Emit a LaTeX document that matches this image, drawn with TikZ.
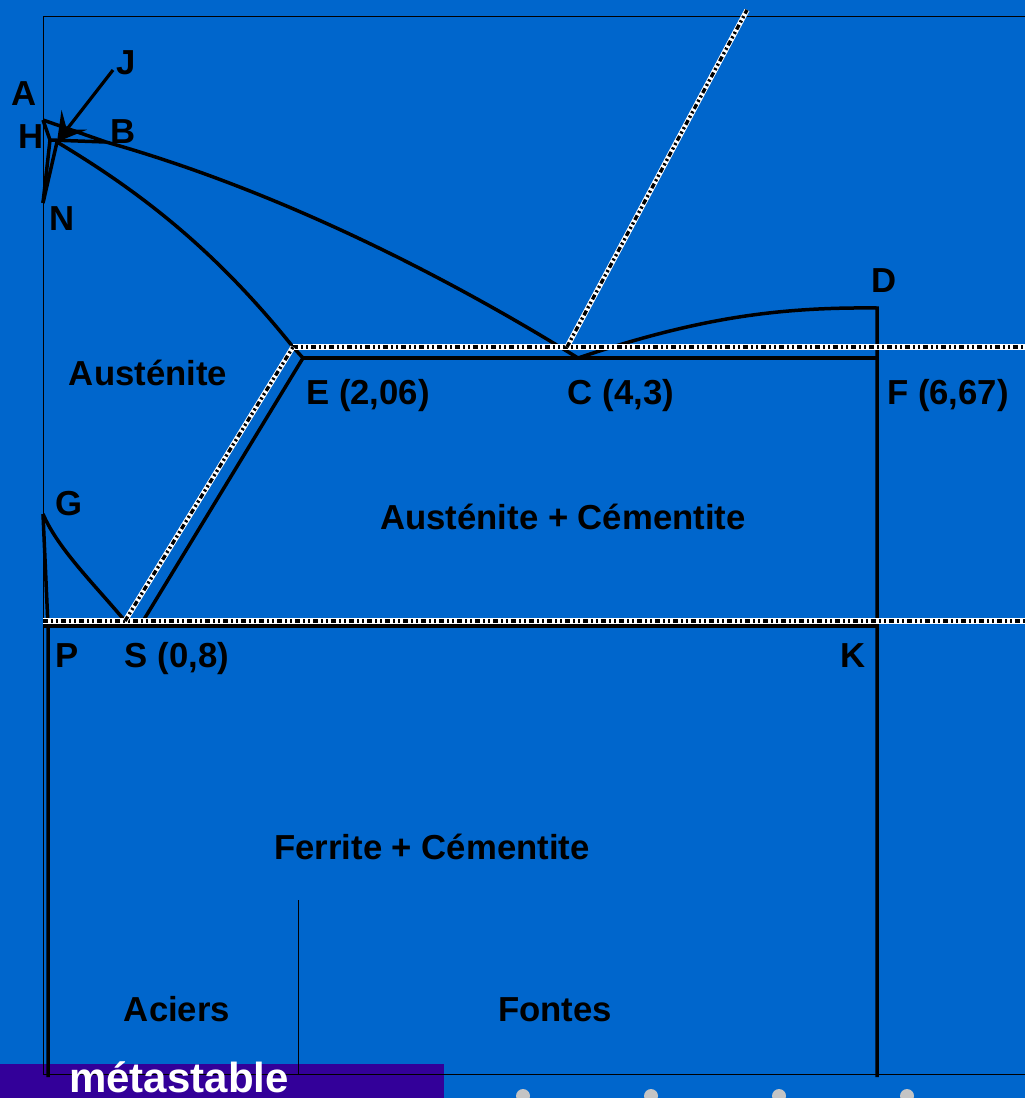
\documentclass[tikz,border=0pt]{standalone}
\usepackage{fontspec}
\setmainfont{Liberation Sans}
\usetikzlibrary{arrows.meta}
\definecolor{fond}{HTML}{0066CC}
\definecolor{bandeau}{HTML}{330099}
\definecolor{puce}{HTML}{C4C4C4}

\begin{document}
\begin{tikzpicture}[x=0.5pt, y=-0.5pt,
  font=\fontsize{17.35}{20}\selectfont\bfseries,
  lab/.style={anchor=base, inner sep=0pt},
  trait/.style={line width=1.75pt},
  cadre/.style={line width=0.5pt},
  pointill/.style={preaction={draw=white, line width=2.6pt}, draw=black, line width=1.7pt,
    dash pattern=on 2.6pt off 1.4pt on 1.1pt off 1.4pt on 1.1pt off 1.4pt},
  arr/.style={-{Stealth[length=14pt, width=16pt, inset=6pt]}, line width=1.6pt}]
\fill[fond] (0,0) rectangle (1025,1098);
\useasboundingbox (0,0) rectangle (1025,1098);
\fill[bandeau] (0,1064) rectangle (444,1098);
\foreach \x in {523,651,779,907} \fill[puce] (\x,1096) circle (3.5pt);

\coordinate (A) at (43,120);
\coordinate (H) at (50,140);
\coordinate (J) at (57,142);
\coordinate (B) at (106,142);
\coordinate (N) at (43,203);
\coordinate (Jtxt) at (113,70);
\coordinate (Eh) at (293,347);
\coordinate (E) at (303,358);
\coordinate (C) at (578,358);
\coordinate (Ch) at (567,347);
\coordinate (Lh) at (747,10);
\coordinate (D) at (877,308);
\coordinate (F) at (877,358);
\coordinate (Fh) at (1025,347);
\coordinate (G) at (43,514);
\coordinate (P0) at (43,626);
\coordinate (P) at (48,626);
\coordinate (S) at (140,626);
\coordinate (Sh) at (125,621);
\coordinate (Gh) at (43,621);
\coordinate (Kh) at (1025,621);
\coordinate (K) at (877,626);
\coordinate (Pb) at (48,1077);
\coordinate (Kb) at (877,1077);
\coordinate (c1) at (1025,16);
\coordinate (c2) at (43,16);
\coordinate (c3) at (43,1074);
\coordinate (c4) at (1025,1074);
\coordinate (t1) at (298,900);
\coordinate (t2) at (298,1074);

\draw[cadre] (c1) -- (c2) -- (c3) -- (c4);
\draw[cadre] (t1) -- (t2);

\draw[trait] (A) -- (B);
\draw[trait] (A) -- (H);
\draw[trait] (H) -- (B);
\draw[trait] (N) -- (H);
\draw[trait] (N) -- (J);
\draw[arr] (Jtxt) -- (J);
\draw[trait] (B) .. controls (255,184) and (418,259) .. (C) .. controls (698,318) and (777,307) .. (D) -- (Kb);
\draw[trait] (J) .. controls (137,190) and (213,247) .. (Eh) -- (E) -- (S);
\draw[trait] (E) -- (F);
\draw[trait] (G) .. controls (58,549) and (95,585) .. (Sh);
\draw[trait] (G) -- (P) -- (Pb);
\draw[trait] (P0) -- (K);

\draw[pointill] (Eh) -- (Fh);
\draw[pointill] (Gh) -- (Kh);
\draw[pointill] (Sh) -- (Eh);
\draw[pointill] (Ch) -- (Lh);

\node[lab] (lA) at (24,105) {A};
\node[lab] (lJ) at (126,74) {J};
\node[lab] (lH) at (31,148) {H};
\node[lab] (lB) at (123,143) {B};
\node[lab] (lN) at (62,230) {N};
\node[lab] (lD) at (884,292) {D};
\node[lab] (laus) at (148,385) {Austénite};
\node[lab] (lE) at (368,404) {E (2,06)};
\node[lab] (lC) at (621,404) {C (4,3)};
\node[lab] (lF) at (948,404) {F (6,67)};
\node[lab] (lG) at (69,515) {G};
\node[lab] (lac) at (563,529) {Austénite + Cémentite};
\node[lab] (lP) at (67,667) {P};
\node[lab] (lS) at (177,667) {S (0,8)};
\node[lab] (lK) at (853,667) {K};
\node[lab] (lfc) at (432,859) {Ferrite + Cémentite};
\node[lab] (lacier) at (177,1021) {Aciers};
\node[lab] (lfonte) at (555,1021) {Fontes};
\node[lab, text=white, font=\fontsize{21}{24}\selectfont\bfseries] (lmeta) at (179,1092) {métastable};
\end{tikzpicture}
\end{document}
